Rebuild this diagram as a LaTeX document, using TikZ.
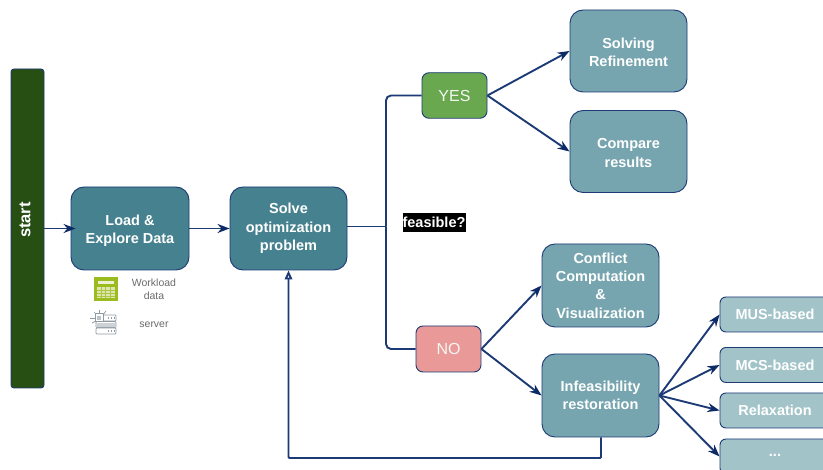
\documentclass[tikz,border=0pt]{standalone}
\usepackage{fontspec}
\setmainfont{Liberation Sans}
\usetikzlibrary{arrows.meta}
\definecolor{linec}{HTML}{1C3A75}
\definecolor{arrowc}{HTML}{0B2A66}
\definecolor{boxdark}{HTML}{45818E}
\definecolor{boxmid}{HTML}{76A5AF}
\definecolor{boxlight}{HTML}{A2C4C9}
\definecolor{startc}{HTML}{274E13}
\definecolor{iconc}{HTML}{8E9BA3}
\definecolor{sheetc}{HTML}{9CBB1E}
\definecolor{yesc}{HTML}{6AA84F}
\definecolor{noc}{HTML}{EA9999}
\tikzset{
  x=1pt,y=-1pt,
  flow/.style={draw=linec,line width=1.9pt,-{Stealth[length=12pt,width=9pt,color=arrowc]}},
  plainflow/.style={draw=linec,line width=1.9pt,rounded corners=5pt},
  backflow/.style={draw=linec,line width=1.9pt,rounded corners=1pt,-{Triangle[open,length=9pt,width=7.5pt,fill=white]}},
  bigbox/.style={draw=linec,line width=0.9pt,rounded corners=13pt,minimum width=118pt,minimum height=83pt,align=center,text=white,inner sep=0pt,
    font=\bfseries\fontsize{14.5}{18.4}\selectfont},
  darkbox/.style={bigbox,fill=boxdark},
  midbox/.style={bigbox,fill=boxmid},
  smallbox/.style={draw=linec,line width=0.9pt,rounded corners=6pt,fill=boxlight,minimum width=120pt,minimum height=35pt,text=white,inner sep=0pt,
    font=\bfseries\fontsize{14.5}{17}\selectfont},
  choice/.style={draw=linec,line width=0.9pt,rounded corners=7pt,minimum width=65pt,minimum height=45.5pt,text=white!92!yesc,inner sep=0pt,font=\fontsize{16}{18}\selectfont},
  note/.style={text=gray!85!black,align=center,inner sep=0pt,font=\fontsize{10.5}{12.5}\selectfont},
  icoline/.style={draw=iconc,line width=0.7pt}
}
\begin{document}
\begin{tikzpicture}
\clip (0,0) rectangle (823,470);
\fill[white] (0,0) rectangle (823,470);
\node[draw=linec,line width=0.9pt,fill=startc,rounded corners=3pt,minimum width=33pt,minimum height=319pt,inner sep=0pt] (start) at (27.5,228.5) {};
\node[rotate=90,text=white,font=\bfseries\fontsize{16.5}{18}\selectfont] (startlabel) at (25,220) {start};
\node[darkbox] (load) at (130,228.5) {\rule{0pt}{15pt}Load \&\\Explore Data};
\node[darkbox,minimum width=117pt] (solve) at (288.5,228.5) {Solve\\optimization\\problem};
\node[choice,fill=yesc] (yes) at (454.5,95.5) {YES};
\node[choice,fill=noc,minimum height=46pt] (no) at (448.5,349) {NO};
\node[midbox,minimum width=117pt,minimum height=82pt] (refine) at (628.5,51) {\rule{0pt}{13pt}Solving\\Refinement};
\node[midbox,minimum width=117pt,minimum height=82pt] (compare) at (628.5,151.5) {\rule{0pt}{13pt}Compare\\results};
\node[midbox,minimum width=117pt] (conflict) at (600.5,285.5) {Conflict\\Computation\\\&\\Visualization};
\node[midbox,minimum width=117pt] (restore) at (600.5,395.5) {Infeasibility\\restoration};
\node[smallbox] (mus) at (780,314.5) {\hspace{-10pt}MUS-based};
\node[smallbox] (mcs) at (780,365) {\hspace{-10pt}MCS-based};
\node[smallbox] (relax) at (780,410.5) {\hspace{-10pt}Relaxation};
\node[smallbox,minimum height=35pt] (more) at (780,456.5) {\hspace{-10pt}\raisebox{2pt}{...}};
\node[fill=black,text=white,inner sep=0pt,minimum width=63pt,minimum height=19pt,font=\bfseries\fontsize{14.5}{16}\selectfont] (feasible) at (434,222.5) {feasible?};
\node[note] (workload) at (154,289) {Workload\\data};
\node[note] (server) at (154,324.5) {server};
\coordinate (junc) at (386,226.5);
\coordinate (fbA) at (601,458);
\coordinate (fbB) at (288.5,458);
\draw[flow,shorten >=-5pt] (start.east |- load.west) -- (load.west);
\draw[flow] (load.east) -- (solve.west);
\draw[plainflow] (solve.east |- junc) -- (junc);
\draw[plainflow] (yes.west) -| (junc);
\draw[plainflow] (no.west) -| (junc);
\draw[flow] (yes.east) -- (refine.west);
\draw[flow] (yes.east) -- (compare.west);
\draw[flow] (no.east) -- (conflict.west);
\draw[flow] (no.east) -- (restore.west);
\draw[flow] (restore.east) -- (mus.west);
\draw[flow] (restore.east) -- (mcs.west);
\draw[flow] (restore.east) -- (relax.west);
\draw[flow] (restore.east) -- (more.west);
\draw[backflow] (restore.south -| fbA) -- (fbA) -- (fbB) -- (solve.south);
% sheet icon
\fill[sheetc] (94,277) rectangle (118,301);
\fill[white!80!sheetc] (98,281) rectangle (114,284);
\fill[white!65!sheetc] (97,287) rectangle (115,298);
\foreach \yy in {290,293,296} \draw[sheetc!85!white,line width=0.5pt] (97,\yy) -- (115,\yy);
\foreach \xx in {101,105,110} \draw[sheetc!85!white,line width=0.5pt] (\xx,287) -- (\xx,298);
% server icon
\foreach \aa/\bb/\cc/\dd in {94/312/97/315, 99.5/310/99.5/314, 106/311/103/315, 90/318/96/318, 92/323/96/321} \draw[icoline] (\aa,\bb) -- (\cc,\dd);
\foreach \yt in {315,321.5,328} \draw[icoline,fill=white,rounded corners=0.8pt] (96,\yt) rectangle (116,\yt+6);
\draw[icoline,fill=white,line width=1pt] (95,314) rectangle (103,322);
\fill[iconc!60!white] (97,316) rectangle (101,320);
\fill[iconc!45!white] (96,323) rectangle (116,327);
\foreach \xx in {108,111,114} {\fill[iconc] (\xx,317.5) rectangle +(1.3,1.3); \fill[iconc] (\xx,330.5) rectangle +(1.3,1.3);}
\end{tikzpicture}
\end{document}
